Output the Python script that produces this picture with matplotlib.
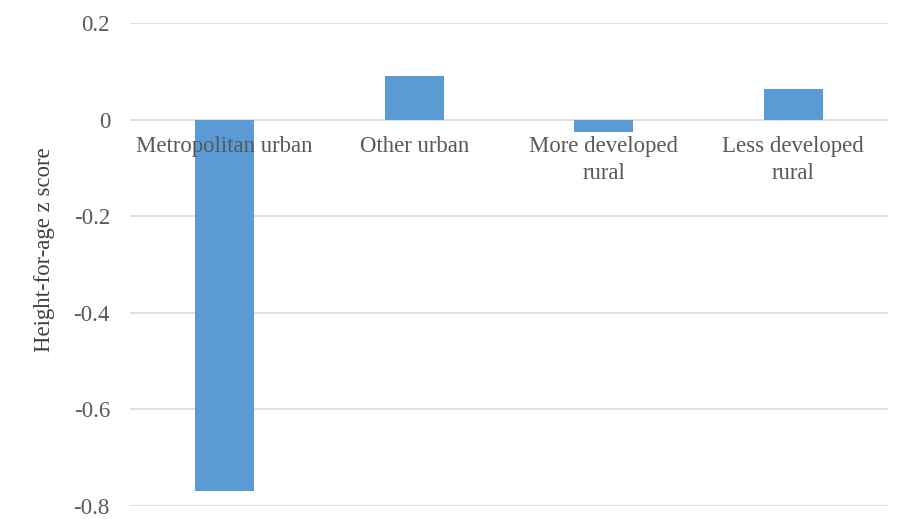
import matplotlib
matplotlib.use("Agg")
import matplotlib.pyplot as plt
from matplotlib.transforms import offset_copy

categories = ["Metropolitan urban", "Other urban", "More developed\nrural", "Less developed\nrural"]
values = [-0.768, 0.091, -0.026, 0.064]
yticks = [-0.8, -0.6, -0.4, -0.2, 0, 0.2]
ytick_labels = ["-0.8", "-0.6", "-0.4", "-0.2", "0", "0.2"]

plt.rcParams['font.family'] = ['Liberation Serif', 'DejaVu Serif']

fig = plt.figure(figsize=(8.98, 5.19), dpi=100)
ax = fig.add_axes([130/898, 1-506/519, (888-130)/898, (506-23)/519])

x = list(range(len(categories)))
ax.bar(x, values, width=0.31, color="#5b9bd5", zorder=3)

ax.set_xlim(-0.5, len(categories)-0.5)
ax.set_ylim(-0.8, 0.2)
ax.set_yticks(yticks)
ax.set_yticklabels(ytick_labels)
ax.set_xticks([])
ax.yaxis.grid(True, color="#d9d9d9", linewidth=1.2, zorder=0)
for s in ax.spines.values():
    s.set_visible(False)
ax.tick_params(axis='y', length=0, pad=14.4, labelsize=16.5, labelcolor="#595959")

fig.text(45/898, 1-250/519, "Height-for-age z score", rotation=90, ha='center', va='center',
         fontsize=16.4, color="#404040")

trans = offset_copy(ax.transData, fig=fig, x=0, y=-12, units='points')
for xi, lab in zip(x, categories):
    ax.text(xi, 0, lab, transform=trans, ha='center', va='top', fontsize=16.4,
            color="#595959", linespacing=1.35, zorder=4)

fig.savefig("out.png", dpi=100)
